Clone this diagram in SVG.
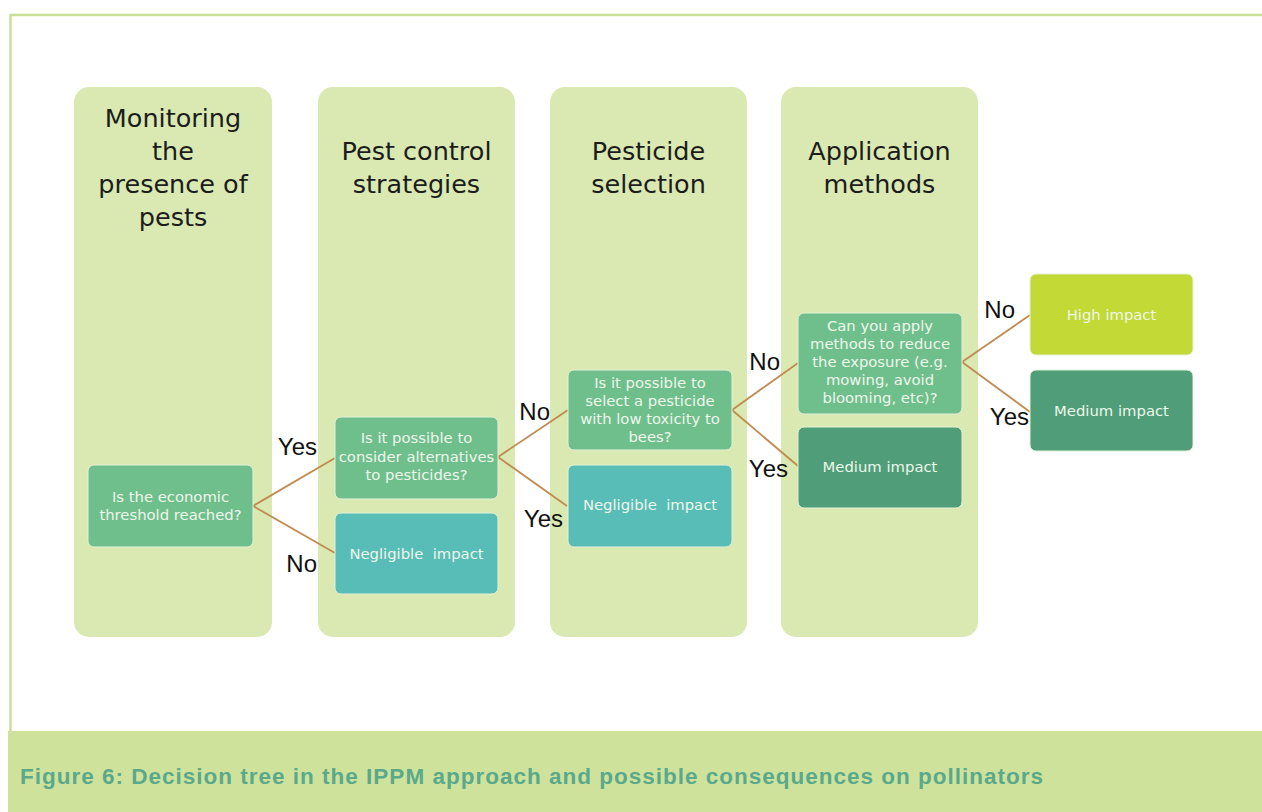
<svg xmlns="http://www.w3.org/2000/svg" width="1262" height="812" viewBox="0 0 1262 812">
<style>
.col{fill:#d9e9b1;}
.hdr{font-family:"DejaVu Sans",sans-serif;font-size:25.5px;fill:#1c1c1c;text-anchor:middle;}
.q{fill:#6fbf8d;stroke:#e4f1d6;stroke-width:1;}
.neg{fill:#58bdb7;stroke:#e4f1d6;stroke-width:1;}
.med{fill:#4f9e79;stroke:#e4f1d6;stroke-width:1;}
.high{fill:#c3d935;stroke:#e4f1d6;stroke-width:1;}
.nt{font-family:"DejaVu Sans",sans-serif;font-size:14.8px;fill:#eef6ea;text-anchor:middle;white-space:pre;}
.lbl{font-family:"Liberation Sans",Arial,sans-serif;font-size:24px;fill:#111;text-anchor:end;}
.conn line{stroke:#c08a50;stroke-width:1.8;fill:none;}
</style>
<rect x="0" y="0" width="1262" height="812" fill="#ffffff"/>
<g id="frame">
<line x1="10" y1="15" x2="1262" y2="15" stroke="#c9df96" stroke-width="2.5"/>
<line x1="10.5" y1="14" x2="10.5" y2="731" stroke="#c9df96" stroke-width="2.5"/>
<rect x="8" y="731" width="1254" height="81" fill="#cfe29c"/>
<text x="20" y="784" font-family="Liberation Sans,Arial,sans-serif" font-size="22.5" font-weight="bold" fill="#59a98a" textLength="1023" lengthAdjust="spacing">Figure 6: Decision tree in the IPPM approach and possible consequences on pollinators</text>
</g>
<g id="col1">
<rect class="col" x="74" y="87" width="198" height="550" rx="15"/>
<text class="hdr" x="173" y="127">Monitoring</text>
<text class="hdr" x="173" y="160">the</text>
<text class="hdr" x="173" y="193">presence of</text>
<text class="hdr" x="173" y="226">pests</text>
</g>
<g id="col2">
<rect class="col" x="318" y="87" width="197" height="550" rx="15"/>
<text class="hdr" x="416.5" y="160">Pest control</text>
<text class="hdr" x="416.5" y="193">strategies</text>
</g>
<g id="col3">
<rect class="col" x="550" y="87" width="197" height="550" rx="15"/>
<text class="hdr" x="648.5" y="160">Pesticide</text>
<text class="hdr" x="648.5" y="193">selection</text>
</g>
<g id="col4">
<rect class="col" x="781" y="87" width="197" height="550" rx="15"/>
<text class="hdr" x="879.5" y="160">Application</text>
<text class="hdr" x="879.5" y="193">methods</text>
</g>
<g id="connectors" class="conn">
<line x1="253" y1="506" x2="335" y2="458"/>
<line x1="253" y1="506" x2="335" y2="553"/>
<line x1="498" y1="457" x2="568" y2="410"/>
<line x1="498" y1="457" x2="567" y2="506"/>
<line x1="732" y1="410" x2="798" y2="363"/>
<line x1="732" y1="410" x2="798" y2="466"/>
<line x1="962" y1="362" x2="1030" y2="315"/>
<line x1="962" y1="362" x2="1030" y2="412"/>
</g>
<g id="labels">
<text class="lbl" x="317" y="455">Yes</text>
<text class="lbl" x="317" y="572">No</text>
<text class="lbl" x="550" y="420">No</text>
<text class="lbl" x="563" y="527">Yes</text>
<text class="lbl" x="780" y="370">No</text>
<text class="lbl" x="788" y="477">Yes</text>
<text class="lbl" x="1015" y="318">No</text>
<text class="lbl" x="1029" y="425">Yes</text>
</g>
<g id="n1">
<rect class="q" x="88" y="465" width="165" height="82" rx="6"/>
<text class="nt" x="170.5" y="502">Is the economic</text>
<text class="nt" x="170.5" y="520">threshold reached?</text>
</g>
<g id="n2">
<rect class="q" x="335" y="417" width="163" height="82" rx="6"/>
<text class="nt" x="416.5" y="443">Is it possible to</text>
<text class="nt" x="416.5" y="462">consider alternatives</text>
<text class="nt" x="416.5" y="480">to pesticides?</text>
</g>
<g id="n3">
<rect class="neg" x="335" y="513" width="163" height="81" rx="6"/>
<text class="nt" x="416.5" y="559">Negligible  impact</text>
</g>
<g id="n4">
<rect class="q" x="568" y="370" width="164" height="80" rx="6"/>
<text class="nt" x="650" y="388">Is it possible to</text>
<text class="nt" x="650" y="406">select a pesticide</text>
<text class="nt" x="650" y="424">with low toxicity to</text>
<text class="nt" x="650" y="442">bees?</text>
</g>
<g id="n5">
<rect class="neg" x="568" y="465" width="164" height="82" rx="6"/>
<text class="nt" x="650" y="510">Negligible  impact</text>
</g>
<g id="n6">
<rect class="q" x="798" y="313" width="164" height="101" rx="6"/>
<text class="nt" x="880" y="331">Can you apply</text>
<text class="nt" x="880" y="349">methods to reduce</text>
<text class="nt" x="880" y="367">the exposure (e.g.</text>
<text class="nt" x="880" y="385">mowing, avoid</text>
<text class="nt" x="880" y="403">blooming, etc)?</text>
</g>
<g id="n7">
<rect class="med" x="798" y="427" width="164" height="81" rx="6"/>
<text class="nt" x="880" y="472">Medium impact</text>
</g>
<g id="n8">
<rect class="high" x="1030" y="274" width="163" height="81" rx="6"/>
<text class="nt" x="1111.5" y="320">High impact</text>
</g>
<g id="n9">
<rect class="med" x="1030" y="370" width="163" height="81" rx="6"/>
<text class="nt" x="1111.5" y="416">Medium impact</text>
</g>
</svg>
